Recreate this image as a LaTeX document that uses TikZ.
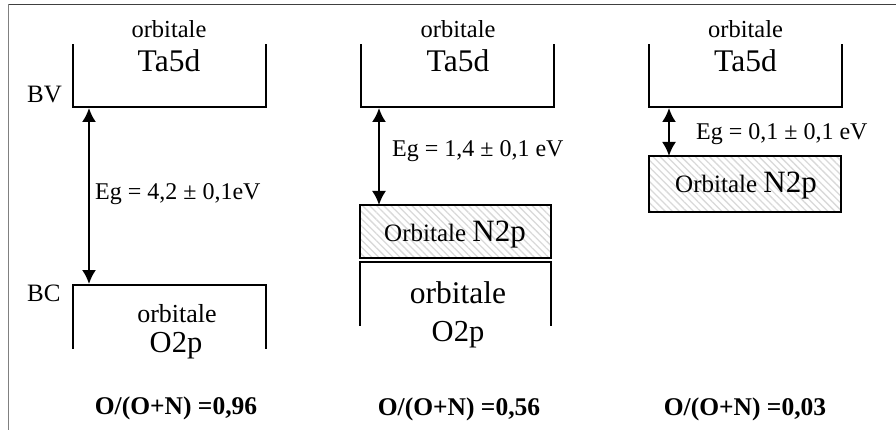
\documentclass[tikz,border=0pt]{standalone}
\usepackage{fontspec}
\setmainfont{Liberation Serif}
\usetikzlibrary{arrows.meta,patterns.meta}
\newcommand{\fs}[1]{\fontsize{#1}{#1}\selectfont}
\begin{document}
\begin{tikzpicture}[x=1pt,y=-1pt,
  band/.style={line width=2pt, line cap=rect},
  gap/.style={line width=2pt, {Latex[length=14pt,width=14pt]}-{Latex[length=14pt,width=14pt]}, shorten <=0pt, shorten >=0pt},
  hatch/.style={pattern={Lines[angle=-45,distance=5pt,line width=1.3pt]}, pattern color=gray!30},
  lbl/.style={inner sep=0pt, anchor=base},
  lblw/.style={inner sep=0pt, anchor=base west},
  small/.style={font=\fs{24.5}},
  big/.style={font=\fs{31.5}},
  side/.style={font=\fs{25}},
  eg/.style={font=\fs{24}},
  ratio/.style={font=\fs{25.5}\bfseries}]
\useasboundingbox (0,0) rectangle (896,430);
\fill[white] (0,0) rectangle (896,430);
% frame
\draw[black!75, line width=1.3pt] (8.5,4.5) -- (896,4.5);
\draw[black!50, line width=1.3pt] (8.5,4.5) -- (8.5,430);

% ---------- panel 1 ----------
\coordinate (c1top) at (89,108);
\coordinate (c1bot) at (89,284);
\draw[band] (72.5,45) -- (72.5,107.5) -- (265.5,107.5) -- (265.5,45);
\node[lbl,small] (o1a) at (169,38) {orbitale};
\node[lbl,big] (ta1) at (169,72) {Ta5d};
\node[lblw,side] (bv) at (27,103) {BV};
\draw[band] (72.5,348) -- (72.5,284.5) -- (265.5,284.5) -- (265.5,348);
\node[lblw,side] (bc) at (27,301) {BC};
\node[lbl,font=\fs{26}] (o1b) at (177,322) {orbitale};
\node[lbl,font=\fs{30.5}] (op1) at (176,352) {O2p};
\draw[gap] (c1top) -- (c1bot);
\node[lblw,eg] (eg1) at (95,200) {Eg = 4,2 ± 0,1eV};
\node[lbl,ratio] (r1) at (176,414) {O/(O+N) =0,96};

% ---------- panel 2 ----------
\coordinate (c2top) at (379,108);
\coordinate (c2bot) at (379,205);
\draw[band] (361,45) -- (361,107.5) -- (554,107.5) -- (554,45);
\node[lbl,small] (o2a) at (458,38) {orbitale};
\node[lbl,big] (ta2) at (458,72) {Ta5d};
\draw[gap] (c2top) -- (c2bot);
\node[lblw,eg] (eg2) at (392,157) {Eg = 1,4 ± 0,1 eV};
\fill[hatch] (360,205) rectangle (551,258);
\draw[band] (360,205) rectangle (551,258);
\node[lbl] (n2) at (455,242) {\fs{25}Orbitale \fs{31}N2p};
\draw[band] (360,325) -- (360,262) -- (551,262) -- (551,325);
\node[lbl,font=\fs{31.5}] (o2b) at (458,303) {orbitale};
\node[lbl,font=\fs{30.5}] (op2) at (458,341) {O2p};
\node[lbl,ratio] (r2) at (459,415) {O/(O+N) =0,56};

% ---------- panel 3 ----------
\coordinate (c3top) at (669,108);
\coordinate (c3bot) at (669,156);
\draw[band] (649,45) -- (649,107.5) -- (842,107.5) -- (842,45);
\node[lbl,small] (o3a) at (745.5,38) {orbitale};
\node[lbl,big] (ta3) at (745.5,72) {Ta5d};
\draw[gap] (c3top) -- (c3bot);
\node[lblw,eg] (eg3) at (696,140) {Eg = 0,1 ± 0,1 eV};
\fill[hatch] (649,156) rectangle (841,212);
\draw[band] (649,156) rectangle (841,212);
\node[lbl] (n3) at (746,193) {\fs{25}Orbitale \fs{31}N2p};
\node[lbl,ratio] (r3) at (745,415) {O/(O+N) =0,03};
\end{tikzpicture}
\end{document}
